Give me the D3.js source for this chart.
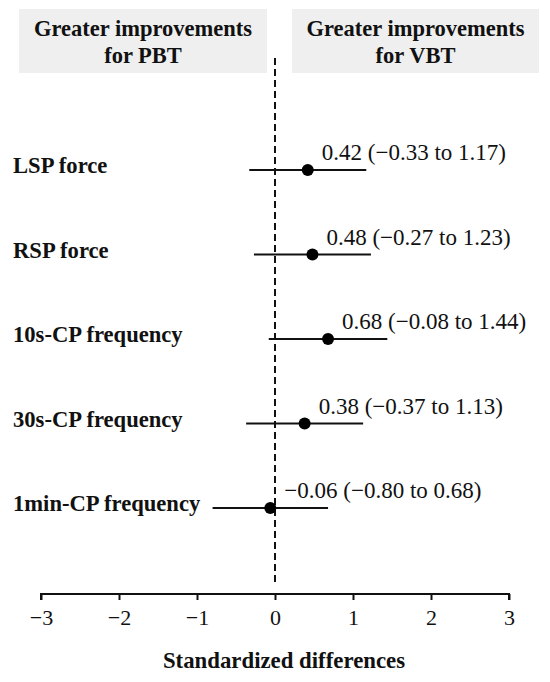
<!DOCTYPE html>
<html>
<head>
<meta charset="utf-8">
<script src="https://cdn.jsdelivr.net/npm/d3@7/dist/d3.min.js"></script>
<style>
  html, body { margin: 0; padding: 0; background: #fff; }
  svg { display: block; font-family: "Liberation Serif", "Times New Roman", serif; }
</style>
</head>
<body>
<svg id="chart" width="550" height="682"></svg>
<script>
// ---- data ----
const categories = ["LSP force", "RSP force", "10s-CP frequency", "30s-CP frequency", "1min-CP frequency"];
const means  = [0.42, 0.48, 0.68, 0.38, -0.06];
const lowers = [-0.33, -0.27, -0.08, -0.37, -0.80];
const uppers = [1.17, 1.23, 1.44, 1.13, 0.68];
const xTicks = [-3, -2, -1, 0, 1, 2, 3];
const headerLeft = ["Greater improvements", "for PBT"];
const headerRight = ["Greater improvements", "for VBT"];
const xTitle = "Standardized differences";

const rows = categories.map((c, i) => ({ cat: c, mean: means[i], lo: lowers[i], hi: uppers[i] }));

const svg = d3.select("#chart");
const x = d3.scaleLinear().domain([-3, 3]).range([41, 509]);
const y = d3.scalePoint().domain(categories).range([170, 508]);
const fmt = d3.format(".2f");

// header boxes
const headers = [
  { lines: headerLeft, x0: 19, x1: 267 },
  { lines: headerRight, x0: 292, x1: 539 }
];
const hg = svg.append("g").selectAll("g").data(headers).join("g");
hg.append("rect")
  .attr("x", d => d.x0).attr("y", 9)
  .attr("width", d => d.x1 - d.x0).attr("height", 64)
  .attr("fill", "#efefef");
hg.each(function(d) {
  const g = d3.select(this);
  d.lines.forEach((t, i) => {
    g.append("text")
      .attr("x", (d.x0 + d.x1) / 2).attr("y", 36 + i * 27)
      .attr("text-anchor", "middle")
      .attr("font-weight", "bold").attr("font-size", 22.5)
      .attr("fill", "#111")
      .text(t);
  });
});

// zero reference dashed line
svg.append("line")
  .attr("x1", x(0)).attr("x2", x(0))
  .attr("y1", 58).attr("y2", 582)
  .attr("stroke", "#111").attr("stroke-width", 2)
  .attr("stroke-dasharray", "7,4");

// x axis
const axis = d3.axisBottom(x).tickValues(xTicks).tickFormat(d3.format("d")).tickSizeOuter(6).tickSize(6).tickPadding(9);
const ag = svg.append("g").attr("transform", "translate(0,594)").call(axis);
ag.select(".domain").attr("stroke", "#111").attr("stroke-width", 2)
  .attr("d", `M${x(-3)},6V0H${x(3)}V6`);
ag.selectAll(".tick line").attr("stroke", "#111").attr("stroke-width", 2);
ag.selectAll(".tick text")
  .attr("font-family", "Liberation Serif, serif")
  .attr("font-size", 22).attr("fill", "#111");

svg.append("text")
  .attr("x", x(0) + 9).attr("y", 668)
  .attr("text-anchor", "middle")
  .attr("font-weight", "bold").attr("font-size", 22.8)
  .attr("fill", "#111")
  .text(xTitle);

// rows
const rg = svg.append("g").selectAll("g").data(rows).join("g");
rg.append("text")
  .attr("x", 13).attr("y", d => y(d.cat) + 3)
  .attr("font-weight", "bold").attr("font-size", 22.6).attr("fill", "#111")
  .text(d => d.cat);
rg.append("line")
  .attr("x1", d => x(d.lo)).attr("x2", d => x(d.hi))
  .attr("y1", d => y(d.cat)).attr("y2", d => y(d.cat))
  .attr("stroke", "#111").attr("stroke-width", 2.2);
rg.append("circle")
  .attr("cx", d => x(d.mean)).attr("cy", d => y(d.cat))
  .attr("r", 6).attr("fill", "#000");
rg.append("text")
  .attr("x", d => x(d.mean) + 14).attr("y", d => y(d.cat) - 10)
  .attr("font-size", 23).attr("fill", "#111")
  .text(d => `${fmt(d.mean)} (${fmt(d.lo)} to ${fmt(d.hi)})`);
</script>
</body>
</html>
